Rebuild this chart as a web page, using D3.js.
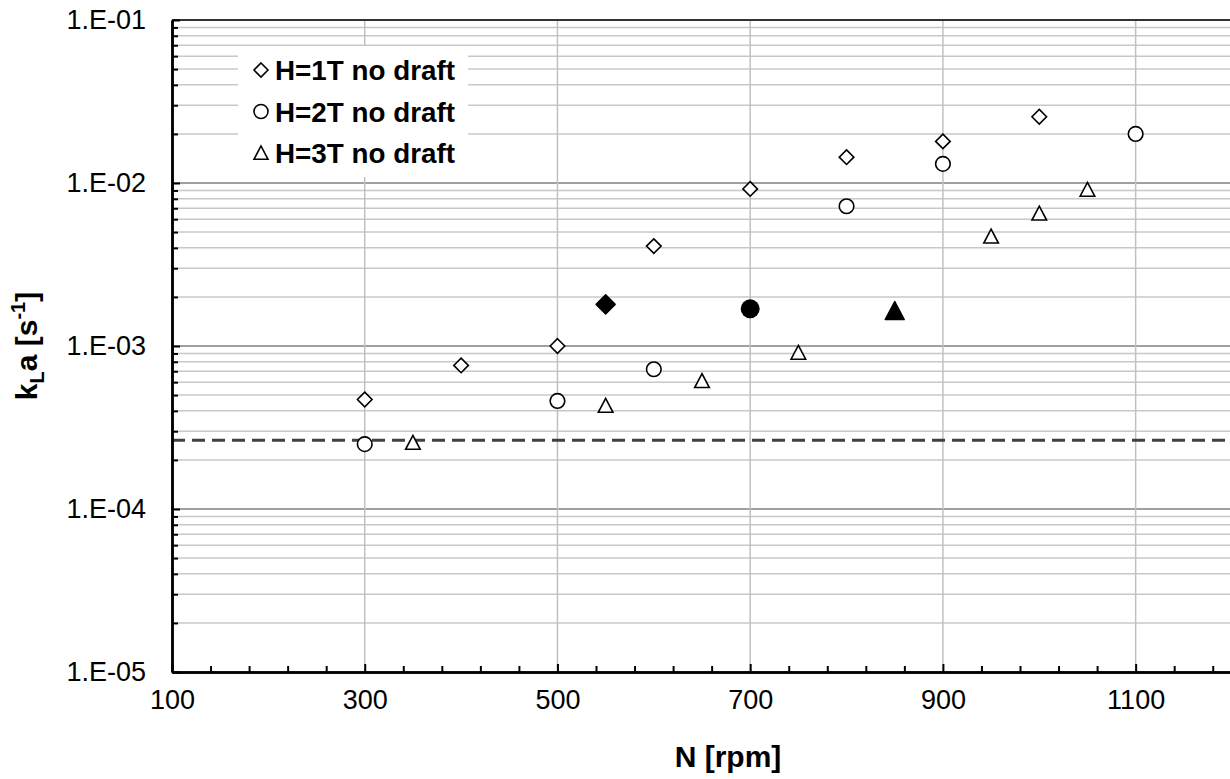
<!DOCTYPE html>
<html>
<head>
<meta charset="utf-8">
<script src="https://cdn.jsdelivr.net/npm/d3@7"></script>
<style>
  body { margin: 0; background: #fff; }
  svg { display: block; font-family: Arial, "Liberation Sans", sans-serif; }
</style>
</head>
<body>
<div id="chart"></div>
<script>
var svgWidth = 1230;
var svgHeight = 779;

// H=1T no draft
var rpm1 = [300, 400, 500, 600, 700, 800, 900, 1000];
var kla1 = [4.7e-4, 7.6e-4, 1.0e-3, 4.1e-3, 9.2e-3, 1.44e-2, 1.8e-2, 2.55e-2];
// H=2T no draft
var rpm2 = [300, 500, 600, 800, 900, 1100];
var kla2 = [2.5e-4, 4.6e-4, 7.2e-4, 7.2e-3, 1.31e-2, 2.0e-2];
// H=3T no draft
var rpm3 = [350, 550, 650, 750, 950, 1000, 1050];
var kla3 = [2.55e-4, 4.3e-4, 6.1e-4, 9.1e-4, 4.7e-3, 6.5e-3, 9.1e-3];
// filled points (one per series)
var filledRpm = [550, 700, 850];
var filledKla = [1.8e-3, 1.69e-3, 1.64e-3];
var filledShape = ["diamond", "circle", "triangle"];
// dashed horizontal level
var dashLevel = 2.64e-4;

var legendLabels = ["H=1T no draft", "H=2T no draft", "H=3T no draft"];
var legendShapes = ["diamond", "circle", "triangle"];

var xMajor = [100, 300, 500, 700, 900, 1100];
var yDecades = [1e-5, 1e-4, 1e-3, 1e-2, 1e-1];

var svg = d3.select("#chart")
    .append("svg")
    .attr("width", svgWidth)
    .attr("height", svgHeight);

var x = d3.scaleLinear().domain([100, 1200]).range([172, 1232]);
var y = d3.scaleLog().domain([1e-5, 1e-1]).range([672, 20]);

// minor values
var yMinor = [];
for (var e = -5; e < -1; e++) {
    for (var m = 2; m <= 9; m++) yMinor.push(m * Math.pow(10, e));
}
var xMinor = d3.range(140, 1200, 40).filter(v => (v - 100) % 200 !== 0);

// grid
var grid = svg.append("g");
grid.selectAll(".hmin").data(yMinor).enter().append("line")
    .attr("x1", 172).attr("x2", svgWidth)
    .attr("y1", d => y(d)).attr("y2", d => y(d))
    .attr("stroke", "#c8c8c8").attr("stroke-width", 1.5);
grid.selectAll(".hmaj").data(yDecades.slice(1, 4)).enter().append("line")
    .attr("x1", 172).attr("x2", svgWidth)
    .attr("y1", d => y(d)).attr("y2", d => y(d))
    .attr("stroke", "#a0a0a0").attr("stroke-width", 2);
grid.selectAll(".vmaj").data(xMajor.slice(1)).enter().append("line")
    .attr("x1", d => x(d)).attr("x2", d => x(d))
    .attr("y1", 20).attr("y2", 672)
    .attr("stroke", "#c0c0c0").attr("stroke-width", 1.5);

// top frame
svg.append("line")
    .attr("x1", 172).attr("x2", svgWidth)
    .attr("y1", 20).attr("y2", 20)
    .attr("stroke", "#333").attr("stroke-width", 2);

// dashed level
svg.append("line")
    .attr("x1", 172).attr("x2", svgWidth)
    .attr("y1", y(dashLevel)).attr("y2", y(dashLevel))
    .attr("stroke", "#404040").attr("stroke-width", 3)
    .attr("stroke-dasharray", "13,7");

// axes
var xAxis = d3.axisBottom(x).tickValues(xMajor).tickSizeInner(-8).tickSizeOuter(0)
    .tickPadding(18).tickFormat(d3.format("d"));
var gx = svg.append("g").attr("transform", "translate(0,672)").call(xAxis);
var xAxisMinor = d3.axisBottom(x).tickValues(xMinor).tickSizeInner(-6).tickSizeOuter(0)
    .tickFormat("");
svg.append("g").attr("transform", "translate(0,672)").call(xAxisMinor);

var fmtY = d => "1.E-" + d3.format("02d")(Math.round(-Math.log10(d)));
var yAxis = d3.axisLeft(y).tickValues(yDecades).tickSizeInner(-8).tickSizeOuter(0)
    .tickPadding(26).tickFormat(fmtY);
var gy = svg.append("g").attr("transform", "translate(172,0)").call(yAxis);
var yAxisMinor = d3.axisLeft(y).tickValues(yMinor).tickSizeInner(-6).tickSizeOuter(0)
    .tickFormat("");
svg.append("g").attr("transform", "translate(172,0)").call(yAxisMinor);

svg.selectAll(".domain").attr("stroke", "#000").attr("stroke-width", 2.5);
svg.selectAll(".tick line").attr("stroke", "#000").attr("stroke-width", 2);
svg.selectAll(".tick text").attr("font-size", 27).attr("fill", "#000")
    .attr("font-family", "Arial, 'Liberation Sans', sans-serif");
gx.selectAll(".tick text").attr("dy", "0.71em");

// markers
function markerPath(shape, s) {
    if (shape === "diamond") {
        return "M0," + (-s) + "L" + s + ",0L0," + s + "L" + (-s) + ",0Z";
    }
    if (shape === "triangle") {
        return "M0," + (-s) + "L" + s + "," + (s * 0.9) + "L" + (-s) + "," + (s * 0.9) + "Z";
    }
    return null;
}

function drawPoints(rpms, klas, shape) {
    var pts = rpms.map((r, i) => ({r: r, k: klas[i]}));
    var g = svg.append("g");
    if (shape === "circle") {
        g.selectAll("circle").data(pts).enter().append("circle")
            .attr("cx", d => x(d.r)).attr("cy", d => y(d.k)).attr("r", 7.3)
            .attr("fill", "#fff").attr("stroke", "#000").attr("stroke-width", 1.6);
    } else {
        g.selectAll("path").data(pts).enter().append("path")
            .attr("transform", d => "translate(" + x(d.r) + "," + y(d.k) + ")")
            .attr("d", markerPath(shape, 7.3))
            .attr("fill", "#fff").attr("stroke", "#000").attr("stroke-width", 1.6);
    }
}
drawPoints(rpm1, kla1, "diamond");
drawPoints(rpm2, kla2, "circle");
drawPoints(rpm3, kla3, "triangle");

// filled points
filledRpm.forEach(function(r, i) {
    var shape = filledShape[i];
    if (shape === "circle") {
        svg.append("circle").attr("cx", x(r)).attr("cy", y(filledKla[i])).attr("r", 9.5)
            .attr("fill", "#000");
    } else {
        svg.append("path")
            .attr("transform", "translate(" + x(r) + "," + y(filledKla[i]) + ")")
            .attr("d", markerPath(shape, 9.5))
            .attr("fill", "#000").attr("stroke", "#000").attr("stroke-width", 1.5)
            .attr("stroke-linejoin", "round");
    }
});

// legend
var legend = svg.append("g");
legend.append("rect").attr("x", 238).attr("y", 46).attr("width", 230).attr("height", 131)
    .attr("fill", "#fff");
legendLabels.forEach(function(lab, i) {
    var cy = 70 + i * 41.5;
    var shape = legendShapes[i];
    if (shape === "circle") {
        legend.append("circle").attr("cx", 261).attr("cy", cy).attr("r", 7)
            .attr("fill", "#fff").attr("stroke", "#000").attr("stroke-width", 1.6);
    } else {
        legend.append("path").attr("transform", "translate(261," + cy + ")")
            .attr("d", markerPath(shape, 7))
            .attr("fill", "#fff").attr("stroke", "#000").attr("stroke-width", 1.6);
    }
    legend.append("text").attr("x", 275).attr("y", cy).attr("dy", "0.36em")
        .attr("font-size", 27.8).attr("font-weight", "bold").text(lab);
});

// axis titles
var yt = svg.append("text")
    .attr("transform", "translate(37,346) rotate(-90)")
    .attr("text-anchor", "middle")
    .attr("font-size", 30).attr("font-weight", "bold");
yt.append("tspan").text("k");
yt.append("tspan").attr("font-size", 20).attr("dy", 7).text("L");
yt.append("tspan").attr("dy", -7).text("a [s");
yt.append("tspan").attr("font-size", 20).attr("dy", -12).text("-1");
yt.append("tspan").attr("dy", 12).text("]");

svg.append("text")
    .attr("x", 728).attr("y", 767)
    .attr("text-anchor", "middle")
    .attr("font-size", 30).attr("font-weight", "bold")
    .text("N [rpm]");
</script>
</body>
</html>
